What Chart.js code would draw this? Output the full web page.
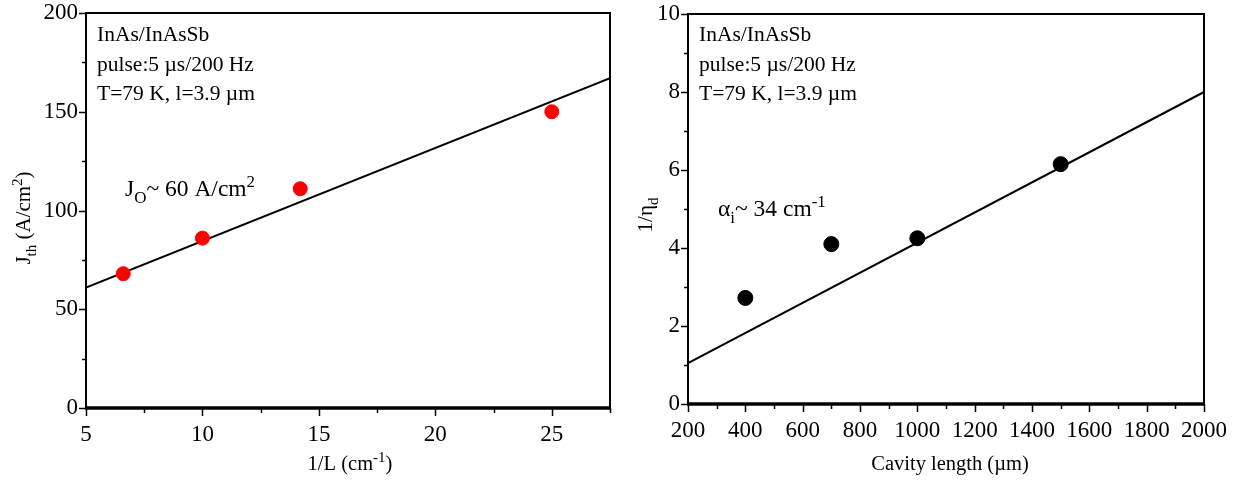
<!DOCTYPE html>
<html>
<head>
<meta charset="utf-8">
<title>InAs/InAsSb laser threshold and efficiency</title>
<script src="https://cdn.jsdelivr.net/npm/chart.js@4.4.1/dist/chart.umd.min.js"></script>
<style>
  html, body { margin: 0; padding: 0; background: #fff; }
  .row { display: flex; width: 1246px; height: 480px; }
  .cell { position: relative; height: 480px; }
</style>
</head>
<body>
<div class="row">
  <div class="cell" style="width:620px"><canvas id="jthChart"></canvas></div>
  <div class="cell" style="width:626px"><canvas id="etaChart"></canvas></div>
</div>
<script>
'use strict';

// Threshold current density vs inverse cavity length
const invLength = [6.6, 10, 14.2, 25];
const jth = [68, 86, 111, 150];
const jthFitX = [5, 27.5];
const jthFitY = [61, 167];

// Inverse differential efficiency vs cavity length
const cavityLength = [400, 700, 1000, 1500];
const invEta = [2.72, 4.1, 4.25, 6.15];
const etaFitX = [200, 2000];
const etaFitY = [1.05, 8.0];

const conditions = ['InAs/InAsSb', 'pulse:5 \u00b5s/200 Hz', 'T=79 K, l=3.9 \u00b5m'];

const SERIF = "'Liberation Serif', 'Times New Roman', serif";
const toPoints = (xs, ys) => xs.map((x, i) => ({ x, y: ys[i] }));

// Draw a run of text pieces with optional sub/superscripts, starting at x
function drawRich(ctx, parts, x, y, size) {
    let cx = x;
    parts.forEach(p => {
        const small = p.sub || p.sup;
        const fs = small ? Math.round(size * 0.72) : size;
        const dy = p.sub ? size * 0.3 : p.sup ? -size * 0.4 : 0;
        ctx.font = fs + 'px ' + SERIF;
        ctx.fillText(p.t, cx, y + dy);
        cx += ctx.measureText(p.t).width;
    });
    return cx - x;
}

function richWidth(ctx, parts, size) {
    let w = 0;
    parts.forEach(p => {
        const fs = (p.sub || p.sup) ? Math.round(size * 0.72) : size;
        ctx.font = fs + 'px ' + SERIF;
        w += ctx.measureText(p.t).width;
    });
    return w;
}

// Frame, tick marks and text drawn on top of the chart area
const decorations = {
    id: 'decorations',
    afterDraw(chart, args, opts) {
        const { ctx, chartArea: a, scales } = chart;
        ctx.save();
        ctx.strokeStyle = '#000';
        ctx.fillStyle = '#000';

        // box frame, bottom edge heavier
        ctx.lineWidth = 2;
        ctx.beginPath();
        ctx.moveTo(a.left, a.bottom);
        ctx.lineTo(a.left, a.top);
        ctx.lineTo(a.right, a.top);
        ctx.lineTo(a.right, a.bottom);
        ctx.stroke();
        ctx.lineWidth = 3.5;
        ctx.beginPath();
        ctx.moveTo(a.left - 1, a.bottom);
        ctx.lineTo(a.right + 1, a.bottom);
        ctx.stroke();

        // outward tick marks, minor ones shorter
        ctx.lineWidth = 1.5;
        scales.x.ticks.forEach(t => {
            const px = Math.round(scales.x.getPixelForValue(t.value)) + 0.5;
            const len = t.value % opts.xMajor === 0 ? 8 : 5;
            ctx.beginPath();
            ctx.moveTo(px, a.bottom);
            ctx.lineTo(px, a.bottom + len);
            ctx.stroke();
        });
        scales.y.ticks.forEach(t => {
            const py = Math.round(scales.y.getPixelForValue(t.value)) + 0.5;
            const len = t.value % opts.yMajor === 0 ? 7 : 4;
            ctx.beginPath();
            ctx.moveTo(a.left, py);
            ctx.lineTo(a.left - len, py);
            ctx.stroke();
        });

        // condition notes, top left inside the box
        ctx.textBaseline = 'alphabetic';
        ctx.textAlign = 'left';
        ctx.font = '21.5px ' + SERIF;
        conditions.forEach((line, i) => {
            ctx.fillText(line, a.left + 11, 41 + i * 29.5);
        });

        // fitted parameter note
        drawRich(ctx, opts.note, opts.noteX, opts.noteY, 23.5);

        // x axis title
        const xw = richWidth(ctx, opts.xTitle, 20.5);
        drawRich(ctx, opts.xTitle, opts.xTitleX - xw / 2, 470, 20.5);

        // y axis title, rotated
        const yw = richWidth(ctx, opts.yTitle, 21);
        ctx.translate(opts.yTitleX, opts.yTitleY);
        ctx.rotate(-Math.PI / 2);
        drawRich(ctx, opts.yTitle, -yw / 2, 0, 21);
        ctx.restore();
    }
};

function tickFont() {
    return { family: SERIF, size: 23 };
}

function makeChart(id, cfg) {
    return new Chart(document.getElementById(id), {
        type: 'scatter',
        data: {
            datasets: [
                {
                    type: 'line',
                    data: cfg.fit,
                    borderColor: '#000',
                    borderWidth: 2,
                    pointRadius: 0,
                    fill: false,
                    order: 2
                },
                {
                    data: cfg.points,
                    backgroundColor: cfg.color,
                    borderColor: cfg.color,
                    pointRadius: cfg.radius,
                    pointHoverRadius: cfg.radius,
                    order: 1
                }
            ]
        },
        options: {
            responsive: false,
            animation: false,
            devicePixelRatio: 1,
            layout: { padding: { top: cfg.top, right: cfg.right, left: 0, bottom: 0 } },
            plugins: {
                legend: { display: false },
                tooltip: { enabled: false },
                decorations: cfg.deco
            },
            scales: {
                x: {
                    type: 'linear',
                    min: cfg.xMin,
                    max: cfg.xMax,
                    grid: { display: false, drawTicks: false },
                    border: { display: false },
                    ticks: {
                        stepSize: cfg.xStep,
                        autoSkip: false,
                        maxRotation: 0,
                        padding: 13,
                        color: '#000',
                        font: tickFont(),
                        callback: v => (v % cfg.deco.xMajor === 0 ? String(v) : '')
                    },
                    afterFit: s => {
                        s.height = 480 - cfg.bottom;
                        s.paddingLeft = 0;
                        s.paddingRight = 0;
                    }
                },
                y: {
                    type: 'linear',
                    min: cfg.yMin,
                    max: cfg.yMax,
                    grid: { display: false, drawTicks: false },
                    border: { display: false },
                    ticks: {
                        stepSize: cfg.yStep,
                        autoSkip: false,
                        padding: 8,
                        color: '#000',
                        font: tickFont(),
                        callback: v => (v % cfg.deco.yMajor === 0 ? String(v) : '')
                    },
                    afterFit: s => {
                        s.width = cfg.left;
                        s.paddingTop = 0;
                        s.paddingBottom = 0;
                    }
                }
            }
        },
        plugins: [decorations]
    });
}

const c1 = document.getElementById('jthChart');
c1.width = 620; c1.height = 480;
const c2 = document.getElementById('etaChart');
c2.width = 626; c2.height = 480;

makeChart('jthChart', {
    fit: toPoints(jthFitX, jthFitY),
    points: toPoints(invLength, jth),
    color: '#ff0000',
    radius: 7,
    xMin: 5, xMax: 27.5, xStep: 2.5,
    yMin: 0, yMax: 200, yStep: 25,
    left: 86, right: 10, top: 13, bottom: 408,
    deco: {
        xMajor: 5, yMajor: 50,
        note: [{ t: 'J' }, { t: 'O', sub: true }, { t: '~ 60 A/cm' }, { t: '2', sup: true }],
        noteX: 125, noteY: 196,
        xTitle: [{ t: '1/L (cm' }, { t: '-1', sup: true }, { t: ')' }],
        xTitleX: 350,
        yTitle: [{ t: 'J' }, { t: 'th', sub: true }, { t: ' (A/cm' }, { t: '2', sup: true }, { t: ')' }],
        yTitleX: 30, yTitleY: 218
    }
});

makeChart('etaChart', {
    fit: toPoints(etaFitX, etaFitY),
    points: toPoints(cavityLength, invEta),
    color: '#000000',
    radius: 7.5,
    xMin: 200, xMax: 2000, xStep: 100,
    yMin: 0, yMax: 10, yStep: 1,
    left: 68, right: 42, top: 14, bottom: 404,
    deco: {
        xMajor: 200, yMajor: 2,
        note: [{ t: '\u03b1' }, { t: 'i', sub: true }, { t: '~ 34 cm' }, { t: '-1', sup: true }],
        noteX: 98, noteY: 216,
        xTitle: [{ t: 'Cavity length (\u00b5m)' }],
        xTitleX: 330,
        yTitle: [{ t: '1/\u03b7' }, { t: 'd', sub: true }],
        yTitleX: 32, yTitleY: 215
    }
});
</script>
</body>
</html>
